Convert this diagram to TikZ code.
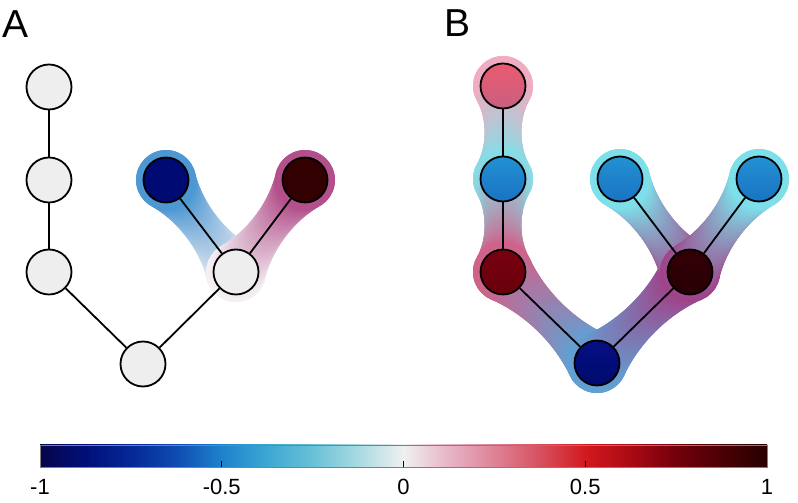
\documentclass[tikz,border=0pt]{standalone}
\usepackage{fontspec}
\setmainfont{Liberation Sans}
\usetikzlibrary{calc}

\pgfdeclarelayer{halo}
\pgfsetlayers{halo,main}

% vertex colours
\definecolor{vgray}{RGB}{238,238,238}
\definecolor{hA5}{RGB}{244,240,243}
\definecolor{hA6}{RGB}{75,150,210}
\definecolor{hA7}{RGB}{178,78,138}
\definecolor{hB1}{RGB}{242,172,192}
\definecolor{hB2}{RGB}{135,220,230}
\definecolor{hB3}{RGB}{208,98,138}
\definecolor{hB4}{RGB}{98,160,210}
\definecolor{hB5}{RGB}{160,68,138}
\definecolor{hB6}{RGB}{125,225,235}
\definecolor{hB7}{RGB}{125,225,235}

% colour map -1 ... 1
\definecolor{cm0}{RGB}{5,5,75}
\definecolor{cm1}{RGB}{0,15,120}
\definecolor{cm2}{RGB}{5,40,150}
\definecolor{cm3}{RGB}{15,75,178}
\definecolor{cm4}{RGB}{30,130,205}
\definecolor{cm5}{RGB}{60,168,210}
\definecolor{cm6}{RGB}{105,192,215}
\definecolor{cm7}{RGB}{168,218,225}
\definecolor{cm8}{RGB}{240,240,240}
\definecolor{cm9}{RGB}{230,180,198}
\definecolor{cm10}{RGB}{222,130,150}
\definecolor{cm11}{RGB}{215,80,95}
\definecolor{cm12}{RGB}{210,25,30}
\definecolor{cm13}{RGB}{170,10,20}
\definecolor{cm14}{RGB}{115,0,10}
\definecolor{cm15}{RGB}{75,0,5}
\definecolor{cm16}{RGB}{40,0,0}
\pgfdeclarehorizontalshading{cmap}{100bp}{color(0bp)=(cm0); color(25bp)=(cm0);
  color(28.125bp)=(cm1); color(31.25bp)=(cm2); color(34.375bp)=(cm3);
  color(37.5bp)=(cm4); color(40.625bp)=(cm5); color(43.75bp)=(cm6);
  color(46.875bp)=(cm7); color(50bp)=(cm8); color(53.125bp)=(cm9);
  color(56.25bp)=(cm10); color(59.375bp)=(cm11); color(62.5bp)=(cm12);
  color(65.625bp)=(cm13); color(68.75bp)=(cm14); color(71.875bp)=(cm15);
  color(75bp)=(cm16); color(100bp)=(cm16)}

% soft band between two vertices, #3 -> #4
\newcommand\bondband[4]{%
  \foreach \t in {0,0.025,...,1.001}{%
    \pgfmathsetmacro\rr{18.5+11.5*(2*\t-1)^2}%
    \pgfmathtruncatemacro\pp{100*\t}%
    \fill[fill=#4!\pp!#3] ($(#1)!\t!(#2)$) circle[radius=\rr pt];
  }}

\begin{document}
\begin{tikzpicture}[x=1pt, y=1pt,
    vtx/.style={circle, draw=black, line width=1.8pt, minimum size=45pt, inner sep=0pt},
    link/.style={line width=1.8pt},
    panel/.style={font=\fontsize{39}{39}\selectfont, inner sep=0pt, anchor=base west},
    cblabel/.style={font=\fontsize{22}{22}\selectfont, inner sep=0pt, anchor=base},
    cbtick/.style={line width=0.6pt}]
  \useasboundingbox (0,0) rectangle (798,503);

  % panel letters
  \node[panel] (labA) at (2,465) {A};
  \node[panel] (labB) at (444,466) {B};

  % panel A
  \node[vtx, fill=vgray] (a1) at (49,416) {};
  \node[vtx, fill=vgray] (a2) at (49,323) {};
  \node[vtx, fill=vgray] (a3) at (49,231) {};
  \node[vtx, fill=vgray] (a4) at (143,139) {};
  \node[vtx, fill=vgray] (a5) at (236,231) {};
  \node[vtx, fill={rgb,255:red,0;green,10;blue,115}] (a6) at (166,323) {};
  \node[vtx, fill={rgb,255:red,50;green,0;blue,0}] (a7) at (305,323) {};

  % panel B
  \node[vtx, top color={rgb,255:red,235;green,90;blue,110}, bottom color={rgb,255:red,200;green,95;blue,130}] (b1) at (503,417) {};
  \node[vtx, top color={rgb,255:red,35;green,145;blue,210}, bottom color={rgb,255:red,25;green,115;blue,195}] (b2) at (503,324) {};
  \node[vtx, top color={rgb,255:red,120;green,0;blue,15}, bottom color={rgb,255:red,105;green,0;blue,10}] (b3) at (503,231) {};
  \node[vtx, top color={rgb,255:red,5;green,15;blue,130}, bottom color={rgb,255:red,0;green,10;blue,110}] (b4) at (597,140) {};
  \node[vtx, top color={rgb,255:red,50;green,0;blue,5}, bottom color={rgb,255:red,40;green,0;blue,5}] (b5) at (690,231) {};
  \node[vtx, top color={rgb,255:red,35;green,145;blue,210}, bottom color={rgb,255:red,25;green,115;blue,195}] (b6) at (620,324) {};
  \node[vtx, top color={rgb,255:red,35;green,145;blue,210}, bottom color={rgb,255:red,25;green,115;blue,195}] (b7) at (759,324) {};

  % edges
  \foreach \u/\v in {1/2,2/3,3/4,4/5,5/6,5/7} {
    \draw[link] (a\u) -- (a\v);
    \draw[link] (b\u) -- (b\v);
  }

  % halos and bands behind the vertices
  \begin{pgfonlayer}{halo}
    \foreach \n in {5,6,7} {\fill[fill=hA\n] (a\n) circle[radius=30pt];}
    \foreach \n in {1,...,7} {\fill[fill=hB\n] (b\n) circle[radius=30pt];}
    \bondband{a5}{a6}{hA5}{hA6}
    \bondband{a5}{a7}{hA5}{hA7}
    \bondband{b1}{b2}{hB1}{hB2}
    \bondband{b2}{b3}{hB2}{hB3}
    \bondband{b3}{b4}{hB3}{hB4}
    \bondband{b4}{b5}{hB4}{hB5}
    \bondband{b5}{b6}{hB5}{hB6}
    \bondband{b5}{b7}{hB5}{hB7}
  \end{pgfonlayer}

  % colour bar
  \shade[shading=cmap, draw=gray, line width=0.8pt] (40,36) rectangle (767,58);
  \foreach \x in {221.75,403.5,585.25} {\draw[cbtick] (\x,36) -- (\x,42);}
  \foreach \v/\x [count=\i] in {-1/40,-0.5/221.75,0/403.5,0.5/585.25,1/767} {
    \node[cblabel] (cb\i) at (\x,8) {\v};
  }
\end{tikzpicture}
\end{document}
